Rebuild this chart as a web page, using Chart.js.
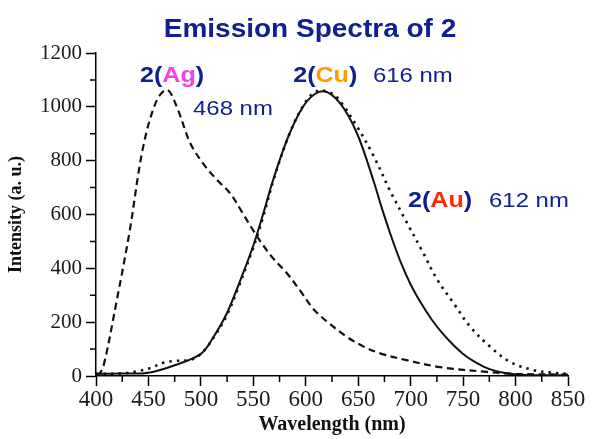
<!DOCTYPE html>
<html>
<head>
<meta charset="utf-8">
<title>Emission Spectra of 2</title>
<script src="https://cdn.jsdelivr.net/npm/chart.js@4.4.0/dist/chart.umd.min.js"></script>
<style>
  html, body { margin: 0; padding: 0; background: #fff; }
  canvas { display: block; }
</style>
</head>
<body>
<canvas id="spectraChart" width="593" height="439"></canvas>
<script>
// values (wavelength in nm, intensity in a.u.)
const wavelengthAg = [402, 407, 420, 432, 445, 458, 468, 477, 490, 502, 515, 528, 540, 550, 560, 570, 582, 595, 607, 620, 639, 655, 671, 696, 728, 773, 800, 850];
const intensityAg  = [0, 35, 285, 536, 852, 1025, 1063, 1000, 864, 790, 730, 678, 604, 540, 482, 432, 382, 315, 250, 203, 146, 110, 84, 59, 33, 15, 8, 5];

const wavelengthCu = [400, 425, 450, 475, 500, 512, 525, 537, 550, 560, 569, 585, 601, 617, 633, 649, 665, 672, 680, 690, 700, 710, 720, 730, 740, 750, 760, 770, 780, 790, 800, 825, 850];
const intensityCu  = [8, 9, 12, 40, 82, 145, 235, 350, 485, 610, 730, 905, 1020, 1058, 1012, 900, 720, 630, 535, 428, 340, 270, 210, 160, 118, 82, 55, 34, 20, 11, 6, 3, 3];

const wavelengthAu = [400, 425, 440, 452, 465, 475, 490, 500, 512, 525, 537, 550, 560, 569, 585, 601, 612, 625, 633, 649, 665, 680, 695, 712, 725, 741, 757, 776, 795, 817, 835, 850];
const intensityAu  = [8, 10, 18, 30, 50, 56, 60, 82, 142, 228, 342, 478, 600, 725, 905, 1025, 1060, 1050, 1020, 926, 815, 691, 580, 457, 360, 270, 182, 108, 52, 22, 12, 8];

const xTickLabels = [400, 450, 500, 550, 600, 650, 700, 750, 800, 850];
const yTickLabels = [0, 200, 400, 600, 800, 1000, 1200];
const xMinorTicks = [425, 475, 525, 575, 625, 675, 725, 775, 825];
const yMinorTicks = [100, 300, 500, 700, 900, 1100];

const blue = '#10208f';
const serif = '"Liberation Serif", "Times New Roman", serif';
const sans = '"Liberation Sans", Arial, Helvetica, sans-serif';

const toPoints = (xs, ys) => xs.map((x, i) => ({ x: x, y: ys[i] }));

// coloured labels next to the curves, anchored on the data axes
const curveLabels = [
  { parts: [['2(', blue], ['Ag', '#f541e4'], [')', blue]], nm: 442, val: 1092, font: 'bold 22px ' + sans },
  { parts: [['468 nm', blue]], nm: 492.5, val: 970, font: '21px ' + sans },
  { parts: [['2(', blue], ['Cu', '#ff9a00'], [')', blue]], nm: 588, val: 1092, font: 'bold 22px ' + sans },
  { parts: [['616 nm', blue]], nm: 664, val: 1092, font: '21px ' + sans },
  { parts: [['2(', blue], ['Au', '#ff2a00'], [')', blue]], nm: 697.5, val: 628, font: 'bold 22px ' + sans },
  { parts: [['612 nm', blue]], nm: 774.7, val: 628, font: '21px ' + sans }
];

// the figure's lettering is a little wider than the installed fonts
function drawParts(c, parts, x, y, font, sx, align) {
  c.save();
  c.font = font;
  c.textBaseline = 'alphabetic';
  c.textAlign = 'left';
  const total = parts.reduce((w, p) => w + c.measureText(p[0]).width, 0) * sx;
  let cx = align === 'center' ? x - total / 2 : x;
  c.translate(cx, y);
  c.scale(sx, 1);
  let off = 0;
  parts.forEach(p => {
    c.fillStyle = p[1];
    c.fillText(p[0], off, 0);
    off += c.measureText(p[0]).width;
  });
  c.restore();
}

const minorTickPlugin = {
  id: 'minorTicks',
  afterDraw(chart) {
    const c = chart.ctx;
    const xs = chart.scales.x, ys = chart.scales.y;
    c.save();
    c.strokeStyle = '#000';
    c.lineWidth = 1.5;
    c.beginPath();
    xMinorTicks.forEach(v => {
      const px = xs.getPixelForValue(v);
      c.moveTo(px, ys.bottom);
      c.lineTo(px, ys.bottom + 6);
    });
    yMinorTicks.forEach(v => {
      const py = ys.getPixelForValue(v);
      c.moveTo(xs.left, py);
      c.lineTo(xs.left - 6, py);
    });
    c.stroke();
    c.restore();
  }
};

const labelPlugin = {
  id: 'curveLabels',
  afterDraw(chart) {
    const c = chart.ctx;
    const xs = chart.scales.x, ys = chart.scales.y;
    drawParts(c, [['Emission Spectra of 2', blue]], 310, 37, 'bold 25px ' + sans, 1.12, 'center');
    curveLabels.forEach(l => {
      drawParts(c, l.parts, xs.getPixelForValue(l.nm), ys.getPixelForValue(l.val), l.font, 1.14, 'left');
    });
  }
};

const ctx = document.getElementById('spectraChart').getContext('2d');
const spectraChart = new Chart(ctx, {
  type: 'line',
  data: {
    datasets: [
      {
        label: '2(Ag)',
        data: toPoints(wavelengthAg, intensityAg),
        borderColor: '#111',
        borderWidth: 2.2,
        borderDash: [7, 4.5],
        pointRadius: 0,
        tension: 0.35,
        fill: false
      },
      {
        label: '2(Cu)',
        data: toPoints(wavelengthCu, intensityCu),
        borderColor: '#111',
        borderWidth: 2,
        pointRadius: 0,
        tension: 0.35,
        fill: false
      },
      {
        label: '2(Au)',
        data: toPoints(wavelengthAu, intensityAu),
        borderColor: '#111',
        borderWidth: 2.6,
        borderDash: [2.5, 5],
        pointRadius: 0,
        tension: 0.35,
        fill: false
      }
    ]
  },
  options: {
    responsive: false,
    animation: false,
    layout: { padding: { top: 53, right: 25, bottom: 0, left: 0 } },
    plugins: {
      legend: { display: false },
      tooltip: { enabled: false },
      title: { display: false }
    },
    scales: {
      x: {
        type: 'linear',
        min: 400,
        max: 850,
        afterBuildTicks: scale => { scale.ticks = xTickLabels.map(v => ({ value: v })); },
        afterFit: scale => { scale.height = 63; },
        ticks: {
          autoSkip: false,
          maxRotation: 0,
          padding: 0,
          color: '#1a1a1a',
          font: { family: serif, size: 23 },
          callback: v => String(v)
        },
        grid: { drawOnChartArea: false, tickLength: 10, tickWidth: 1.5, tickColor: '#000' },
        border: { color: '#000', width: 1.5 },
        title: {
          display: true,
          text: 'Wavelength (nm)',
          color: '#111',
          font: { family: serif, size: 20, weight: 'bold' },
          padding: { top: 0, bottom: 2 }
        }
      },
      y: {
        min: 0,
        max: 1200,
        afterBuildTicks: scale => { scale.ticks = yTickLabels.map(v => ({ value: v })); },
        afterFit: scale => { scale.width = 96; },
        ticks: {
          padding: 4,
          color: '#1a1a1a',
          font: { family: serif, size: 21 },
          callback: v => String(v)
        },
        grid: { drawOnChartArea: false, tickLength: 10, tickWidth: 1.5, tickColor: '#000' },
        border: { color: '#000', width: 1.5 },
        title: {
          display: true,
          text: 'Intensity (a. u.)',
          color: '#111',
          font: { family: serif, size: 18, weight: 'bold' },
          padding: { top: 6, bottom: 0 }
        }
      }
    }
  },
  plugins: [minorTickPlugin, labelPlugin]
});
</script>
</body>
</html>
